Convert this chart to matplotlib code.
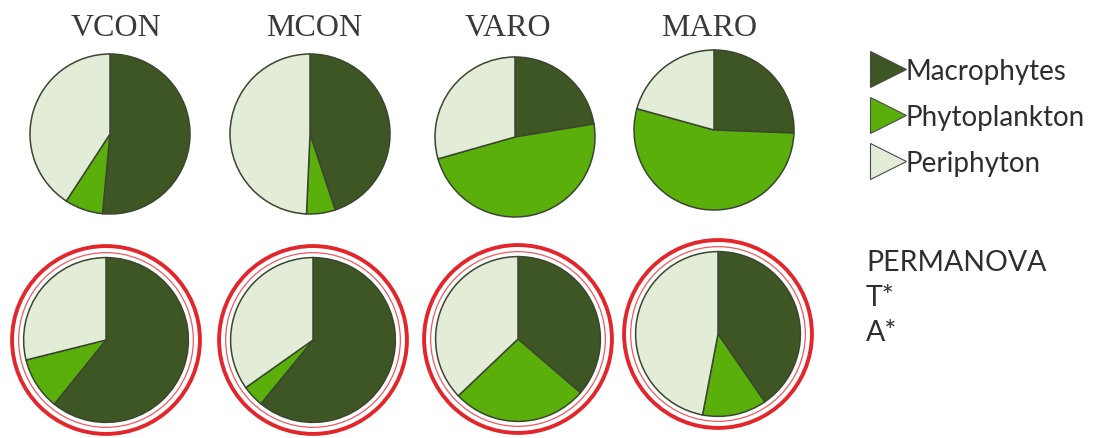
import matplotlib.pyplot as plt
from matplotlib.lines import Line2D
from matplotlib.patches import Circle

# 数据：各处理组三类初级生产者的比例（上排 / 下排）
groups = ['VCON', 'MCON', 'VARO', 'MARO']
labels = ['Macrophytes', 'Phytoplankton', 'Periphyton']

macro_top = [0.515, 0.449, 0.224, 0.256]
phyto_top = [0.077, 0.058, 0.482, 0.537]
peri_top = [0.408, 0.493, 0.294, 0.207]

macro_bottom = [0.608, 0.609, 0.363, 0.404]
phyto_bottom = [0.103, 0.043, 0.266, 0.126]
peri_bottom = [0.289, 0.348, 0.371, 0.470]

stats_lines = ['PERMANOVA', 'T*', 'A*']

colors = ['#3d5623', '#5aaf0a', '#e3ecd7']
W, H = 1108, 439

# 版面位置（像素）
top_cx = [110, 310, 515, 714]
top_cy = [135, 135, 138, 131]
bot_cx = [106, 313, 518, 718]
bot_cy = [341, 341, 340, 335]
title_x = [116, 314, 508, 709]

fig = plt.figure(figsize=(W / 100, H / 100), dpi=100)


def pie_axes(cx, cy, half=100):
    return fig.add_axes([(cx - half) / W, 1 - (cy + half) / H, 2 * half / W, 2 * half / H])


def draw_pie(ax, vals, radius, ring=False):
    ax.pie(vals, colors=colors, startangle=90, counterclock=False, radius=radius,
           wedgeprops=dict(edgecolor='#3a4630', linewidth=1.1))
    if ring:
        ax.add_patch(Circle((0, 0), radius * 1.14, fill=False, ec='#e3262b', lw=2.8))
        ax.add_patch(Circle((0, 0), radius * 1.06, fill=False, ec='#ee5a5e', lw=0.9))
    ax.set_xlim(-1.25, 1.25)
    ax.set_ylim(-1.25, 1.25)
    ax.set_aspect('equal')
    ax.axis('off')


for i, g in enumerate(groups):
    ax = pie_axes(top_cx[i], top_cy[i])
    draw_pie(ax, [macro_top[i], phyto_top[i], peri_top[i]], 1.0)
    fig.text(title_x[i] / W, 1 - 28 / H, g, ha='center', va='center',
             family='Liberation Serif', fontsize=23, color='#3a3a3a')

    ax = pie_axes(bot_cx[i], bot_cy[i])
    draw_pie(ax, [macro_bottom[i], phyto_bottom[i], peri_bottom[i]], 1.03, ring=True)

# 图例
handles = [Line2D([], [], ls='', marker='>', markersize=26, markerfacecolor=c,
                  markeredgecolor='#4a4a4a', markeredgewidth=0.8) for c in colors]
fig.legend(handles, labels, loc='upper left', bbox_to_anchor=(846 / W, 1 - 34 / H),
           frameon=False, handlelength=1.25, handletextpad=0.0, labelspacing=0.72,
           prop=dict(family='Lato', size=20), labelcolor='#2e2e2e')

for k, s in enumerate(stats_lines):
    fig.text(866 / W, 1 - (263 + 35 * k) / H, s, ha='left', va='center',
             family='Lato', fontsize=20.5, color='#2e2e2e')

fig.savefig('out.png', dpi=100)
